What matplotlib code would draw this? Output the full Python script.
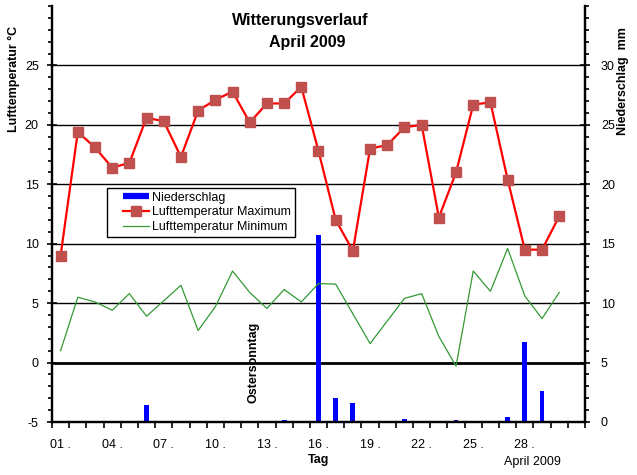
import numpy as np
import matplotlib
matplotlib.use('Agg')
import matplotlib.pyplot as plt
from matplotlib.lines import Line2D
from matplotlib.legend_handler import HandlerLine2D
from matplotlib.ticker import MultipleLocator, FixedLocator

plt.rcParams['font.family'] = ['Liberation Sans', 'DejaVu Sans']
plt.rcParams['axes.unicode_minus'] = False

days = np.arange(1, 31)
t_max = [9.0, 19.4, 18.1, 16.4, 16.8, 20.6, 20.3, 17.3, 21.2, 22.1,
         22.8, 20.2, 21.8, 21.8, 23.2, 17.8, 12.0, 9.4, 18.0, 18.3,
         19.8, 20.0, 12.2, 16.0, 21.7, 21.9, 15.4, 9.5, 9.5, 12.3]
t_min = [1.0, 5.5, 5.1, 4.4, 5.8, 3.9, 5.2, 6.5, 2.7, 4.7,
         7.7, 5.9, 4.55, 6.15, 5.1, 6.65, 6.6, 4.1, 1.6, 3.5,
         5.4, 5.8, 2.2, -0.3, 7.7, 6.0, 9.6, 5.6, 3.7, 5.9]
precip = [0, 0, 0, 0, 0, 1.4, 0, 0, 0, 0,
          0, 0, 0, 0.15, 0, 15.7, 2.0, 1.6, 0, 0,
          0.25, 0, 0, 0.15, 0, 0, 0.4, 6.7, 2.65, 0]
label_days = [1, 4, 7, 10, 13, 16, 19, 22, 25, 28]

c_red = '#FF0000'
c_mark = '#C0504D'
c_green = '#339933'
c_blue = '#0000FF'

fig = plt.figure(figsize=(6.37, 4.75), dpi=100)
# precipitation axes underneath, temperature axes on top
ax = fig.add_axes([52/637, 1-422/475, 533/637, 416/475])
ax2 = ax.twinx()

ax.set_xlim(0.5, 31.5)
ax.set_ylim(0, 35)
ax2.set_ylim(-5, 30)

# grid lines (in precipitation units: 5..30 = temp 0..25)
for v in [10, 15, 20, 25, 30]:
    ax.axhline(v, color='black', lw=1.0, zorder=1)
ax.axhline(5, color='black', lw=2.0, zorder=1)

ax.bar(days, precip, width=0.28, color=c_blue, zorder=2)

ax2.plot(days, t_min, color=c_green, lw=0.9, zorder=3)
ax2.plot(days, t_max, color=c_red, lw=1.6, marker='s', ms=7,
         mfc=c_mark, mec=c_mark, zorder=4)

# axes sides: temperature left, precipitation right
ax2.yaxis.tick_left()
ax2.yaxis.set_label_position('left')
ax.yaxis.tick_right()
ax.yaxis.set_label_position('right')

for a in (ax, ax2):
    a.spines['top'].set_visible(False)
    for s in ('left', 'right', 'bottom'):
        a.spines[s].set_linewidth(1.6)

ax2.yaxis.set_major_locator(FixedLocator([-5, 0, 5, 10, 15, 20, 25]))
ax2.yaxis.set_minor_locator(MultipleLocator(1))
ax.yaxis.set_major_locator(FixedLocator([0, 5, 10, 15, 20, 25, 30]))
ax.yaxis.set_minor_locator(MultipleLocator(1))
ax2.tick_params(axis='y', which='major', direction='inout', length=7, width=1.2,
                labelsize=9, pad=6)
ax2.tick_params(axis='y', which='minor', direction='out', length=3, width=1.2)
ax.tick_params(axis='y', which='major', direction='inout', length=7, width=1.2,
               labelsize=9, pad=8)
ax.tick_params(axis='y', which='minor', direction='out', length=3, width=1.2)

ax.set_xticks(label_days)
ax.set_xticklabels(['%02d .' % d for d in label_days])
ax.xaxis.set_minor_locator(MultipleLocator(1, offset=0.5))
ax.tick_params(axis='x', which='major', length=0, labelsize=9, pad=12)
ax.tick_params(axis='x', which='minor', direction='out', length=4, width=1.2)

ax2.set_ylabel('Lufttemperatur °C', fontsize=9, fontweight='bold')
ax2.yaxis.set_label_coords(-0.06, 0.8245)
ax.set_ylabel('Niederschlag  mm', fontsize=9, fontweight='bold', rotation=90)
ax.yaxis.set_label_coords(1.06, 0.82)

fig.text(300/637, 1-20/475, 'Witterungsverlauf', ha='center', va='center',
         fontsize=11.5, fontweight='bold')
fig.text(307/637, 1-42/475, 'April 2009', ha='center', va='center',
         fontsize=11.5, fontweight='bold')
fig.text(319/637, 1-460/475, 'Tag', ha='center', va='center',
         fontsize=9, fontweight='bold')
fig.text(532/637, 1-462/475, 'April 2009', ha='center', va='center', fontsize=9)

ax2.text(12.2, 0, 'Ostersonntag', rotation=90, ha='center', va='center',
         fontsize=9, fontweight='bold', zorder=5)

handles = [Line2D([], [], color=c_blue, lw=4.5, solid_capstyle='butt'),
           Line2D([], [], color=c_red, lw=1.6, marker='s', ms=7, mfc=c_mark, mec=c_mark),
           Line2D([], [], color=c_green, lw=0.9)]
labels = ['Niederschlag', 'Lufttemperatur Maximum', 'Lufttemperatur Minimum']
hmap = {h: HandlerLine2D(xpad=0.96) for h in handles}
leg = ax2.legend(handles, labels, loc='upper left', bbox_to_anchor=(0.103, 0.5625),
                 borderaxespad=0, fontsize=9, fancybox=False, framealpha=1,
                 edgecolor='black', handlelength=3.04, labelspacing=0.22,
                 borderpad=0.3, handletextpad=0.3, handler_map=hmap)
leg.get_frame().set_linewidth(1.0)

fig.savefig('out.png', dpi=100)
